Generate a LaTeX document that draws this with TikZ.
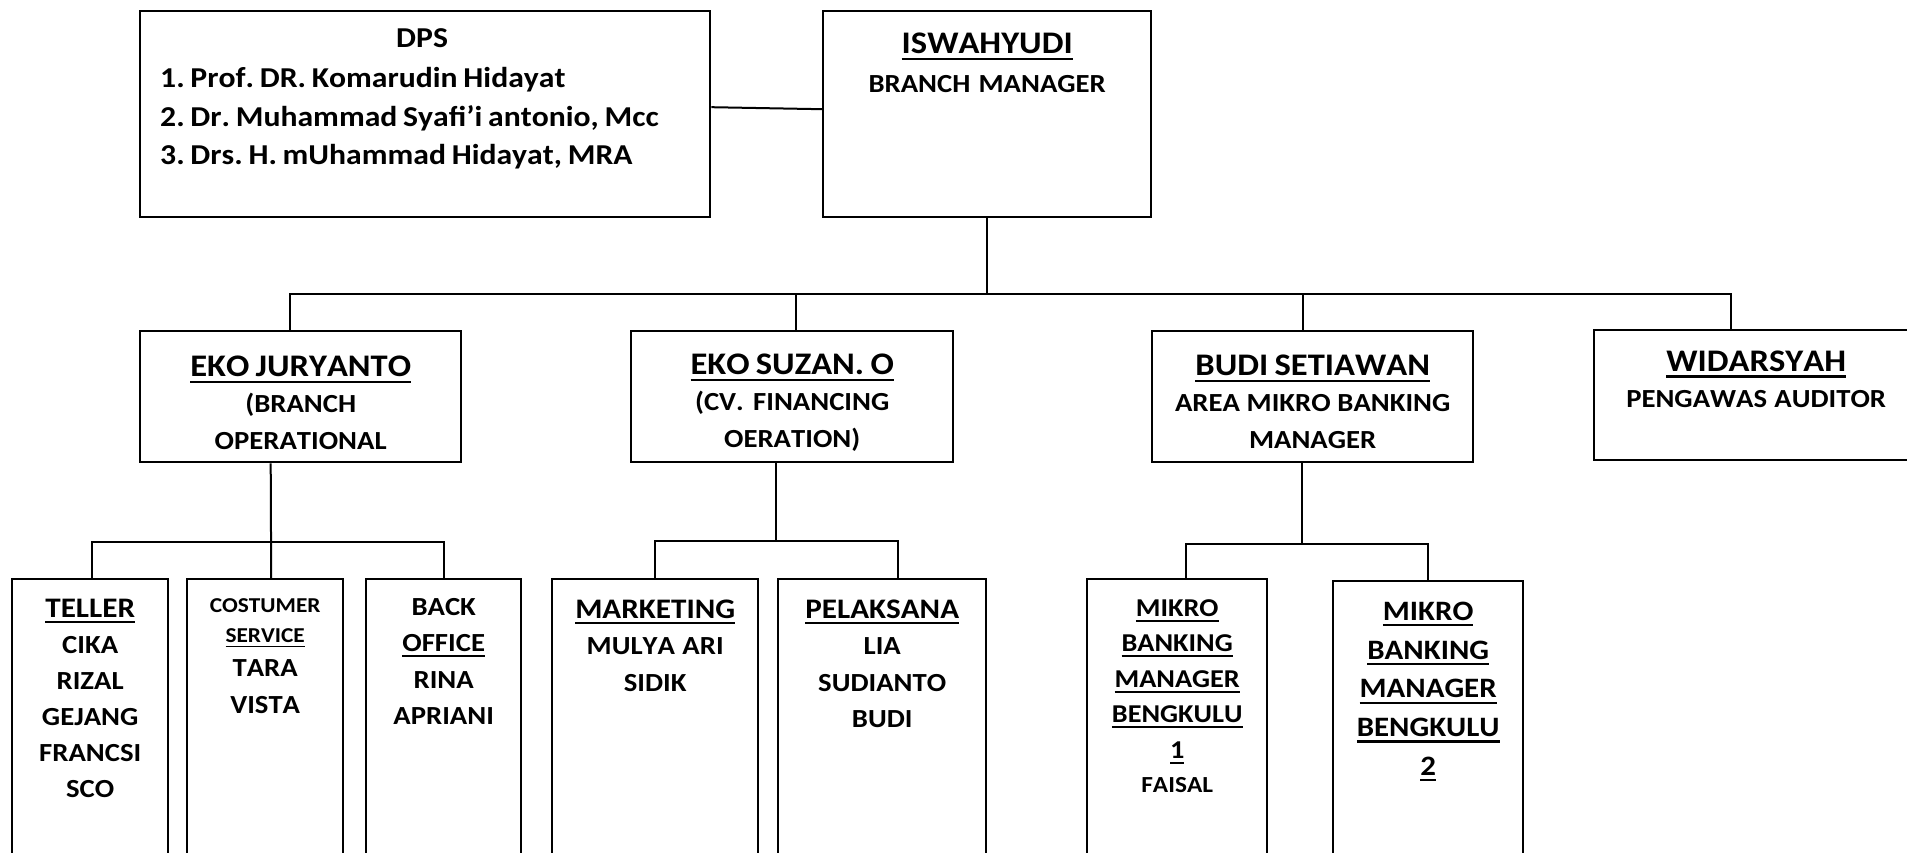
\documentclass[tikz,border=0pt]{standalone}
\usepackage{fontspec}
\setmainfont{Carlito}[Kerning=Off,FakeStretch=1.10]
\XeTeXinterwordspaceshaping=0
\frenchspacing

% size, baseline skip, word space
\newcommand{\fs}[2]{\fontsize{#1}{#2}\selectfont\spaceskip=0.2em plus 0.05em minus 0.03em\relax}
\newcommand{\hd}{\fs{31.4}{38}}
\newcommand{\nm}{\fs{26.1}{36.5}}
\newcommand{\sm}{\fs{21.2}{30.5}}
\newcommand{\tl}{\fs{28.3}{36}}
\newcommand{\ulbar}[1]{\leavevmode\vtop{\hbox{#1}\kern0.13em\hrule height0.085em}}

\begin{document}
\begin{tikzpicture}[x=1pt,y=-1pt,
  unit/.style={draw,line width=2.4pt,inner sep=0pt,anchor=north west,align=center,font=\bfseries},
  link/.style={line width=2pt}]
  \useasboundingbox (0,0) rectangle (1907,853);
  \clip (0,0) rectangle (1907,853);

  % top row
  \node[unit,align=left,text width=570pt,text height=36pt,text depth=170pt] (dps) at (139,10)
    {\fs{28.8}{38.5}\hspace*{256pt}DPS\\[2pt]
     \hspace*{20pt}1. Prof. DR. Komarudin Hidayat\\
     \hspace*{20pt}2. Dr. Muhammad Syafi'i antonio, Mcc\\
     \hspace*{20pt}3. Drs. H. mUhammad Hidayat, MRA\par};
  \node[unit,text width=328pt,text height=42pt,text depth=164pt] (isw) at (822,10)
    {\hd\ulbar{ISWAHYUDI}\\ \fs{26.1}{39}BRANCH MANAGER\par};

  % second row
  \node[unit,text width=321pt,text height=45pt,text depth=86pt] (ekoj) at (139,330)
    {\hd\ulbar{EKO JURYANTO}\\ \nm (BRANCH\\ OPERATIONAL\par};
  \node[unit,text width=322pt,text height=43pt,text depth=88pt] (ekos) at (630,330)
    {\hd\ulbar{EKO SUZAN. O}\\ \nm (CV. FINANCING\\ OERATION)\par};
  \node[unit,text width=321pt,text height=44pt,text depth=87pt] (budi) at (1151,330)
    {\hd\ulbar{BUDI SETIAWAN}\\ \nm AREA MIKRO BANKING\\ MANAGER\par};
  \node[unit,text width=324pt,text height=41pt,text depth=89pt] (widar) at (1593,329)
    {\hd\ulbar{WIDARSYAH}\\ \nm PENGAWAS AUDITOR\par};

  % third row
  \node[unit,text width=156pt,text height=38pt,text depth=262pt] (teller) at (11,578)
    {\tl\ulbar{TELLER}\\ \fs{26.1}{36}CIKA\\ RIZAL\\ GEJANG\\ FRANCSI\\ SCO\par};
  \node[unit,text width=156pt,text height=33pt,text depth=267pt] (cs) at (186,578)
    {\sm COSTUMER\\ \ulbar{SERVICE}\\ \fs{26.1}{34}TARA\\ \nm VISTA\par};
  \node[unit,text width=155pt,text height=36pt,text depth=264pt] (back) at (365,578)
    {\nm BACK\\ \ulbar{OFFICE}\\ RINA\\ APRIANI\par};
  \node[unit,text width=206pt,text height=39pt,text depth=261pt] (mkt) at (551,578)
    {\tl\ulbar{MARKETING}\\ \nm MULYA ARI\\ SIDIK\par};
  \node[unit,text width=208pt,text height=39pt,text depth=261pt] (pel) at (777,578)
    {\tl\ulbar{PELAKSANA}\\ \nm LIA\\ SUDIANTO\\ BUDI\par};
  \node[unit,text width=180pt,text height=37pt,text depth=263pt] (mb1) at (1086,578)
    {\fs{25.7}{35.5}\ulbar{MIKRO}\\ \ulbar{BANKING}\\ \ulbar{MANAGER}\\ \ulbar{BENGKULU}\\ \ulbar{1}\\
     \fs{23}{34.5}FAISAL\par};
  \node[unit,text width=190pt,text height=39pt,text depth=261pt] (mb2) at (1332,580)
    {\fs{28.1}{38.8}\ulbar{MIKRO}\\ \ulbar{BANKING}\\ \ulbar{MANAGER}\\ \ulbar{BENGKULU}\\ \ulbar{2}\par};

  % links
  \draw[link] ([yshift=7pt]dps.east) -- ([yshift=5pt]isw.west);
  \draw[link] (isw.south) -- ++(0,76) coordinate (hub);
  \draw[link] ([xshift=-11pt]ekoj.north) |- (hub) -| ([xshift=-25pt]widar.north);
  \draw[link] ([xshift=4pt]ekos.north) |- (hub);
  \draw[link] ([xshift=-10pt]budi.north) |- (hub);

  \draw[link] ([xshift=-30pt]ekoj.south) -- ([xshift=6pt]cs.north) coordinate[pos=.69] (hubA);
  \draw[link] ([xshift=2pt]teller.north) |- (hubA) -| (back.north);

  \draw[link] ([xshift=-16pt]ekos.south) -- ++(0,78) coordinate (hubB);
  \draw[link] (mkt.north) |- (hubB) -| ([xshift=16pt]pel.north);

  \draw[link] ([xshift=-11pt]budi.south) -- ++(0,81) coordinate (hubC);
  \draw[link] ([xshift=9pt]mb1.north) |- (hubC) -| (mb2.north);
\end{tikzpicture}
\end{document}
